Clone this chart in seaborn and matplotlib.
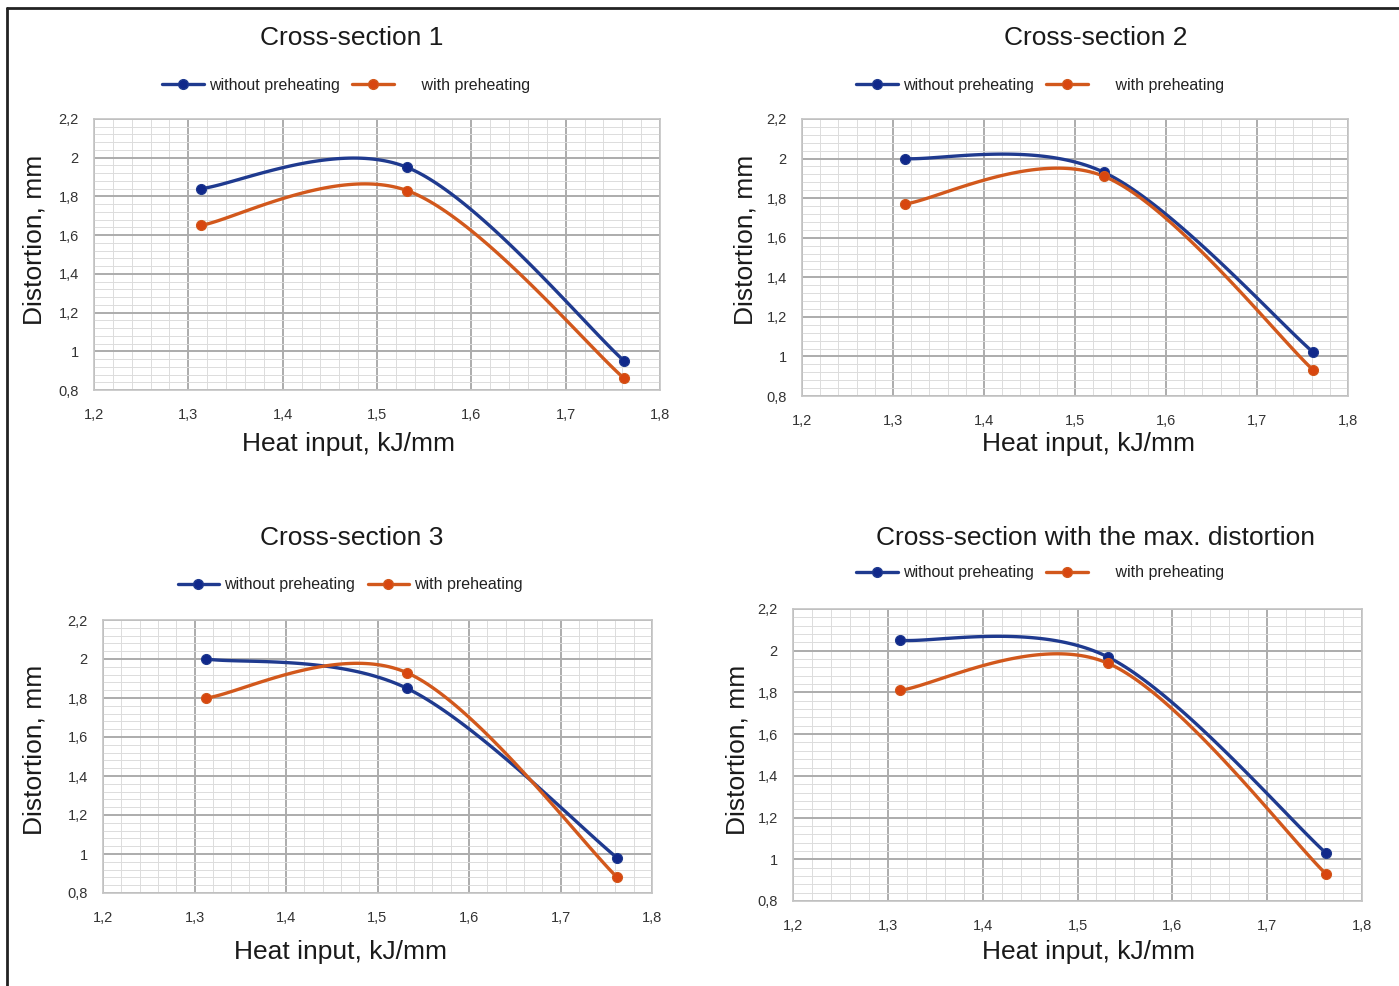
import numpy as np
import pandas as pd
import matplotlib
matplotlib.use("Agg")
import matplotlib.pyplot as plt
from matplotlib.ticker import FixedLocator, MultipleLocator, FixedFormatter
from matplotlib.lines import Line2D
import seaborn as sns

# ---- data -------------------------------------------------------------
heat_input = [1.313, 1.532, 1.762]

panel_titles = ["Cross-section 1", "Cross-section 2",
                "Cross-section 3", "Cross-section with the max. distortion"]

cs1_without = [1.84, 1.95, 0.95]
cs1_with = [1.65, 1.83, 0.86]
cs2_without = [2.00, 1.93, 1.02]
cs2_with = [1.77, 1.91, 0.93]
cs3_without = [2.00, 1.85, 0.98]
cs3_with = [1.80, 1.93, 0.88]
cs4_without = [2.05, 1.97, 1.03]
cs4_with = [1.81, 1.94, 0.93]

series_names = ["without preheating", "with preheating"]

x_ticks = [1.2, 1.3, 1.4, 1.5, 1.6, 1.7, 1.8]
x_tick_labels = ["1,2", "1,3", "1,4", "1,5", "1,6", "1,7", "1,8"]
y_ticks = [0.8, 1.0, 1.2, 1.4, 1.6, 1.8, 2.0, 2.2]
y_tick_labels = ["0,8", "1", "1,2", "1,4", "1,6", "1,8", "2", "2,2"]

x_label = "Heat input, kJ/mm"
y_label = "Distortion, mm"

# ---- style ------------------------------------------------------------
sns.set_theme(style="white")
plt.rcParams["font.family"] = ["Liberation Sans", "DejaVu Sans"]

BLUE = "#1f3a8f"
BLUE_MK = "#10288a"
ORANGE = "#d2581c"
ORANGE_MK = "#d8460f"

W, H = 1399, 986
fig = plt.figure(figsize=(W / 100, H / 100), dpi=100)
fig.patch.set_facecolor("white")


def px_rect(left, right, top, bottom):
    return [left / W, 1 - bottom / H, (right - left) / W, (bottom - top) / H]


def smooth(xs, ys, n=60):
    """Excel-like smoothed line: Catmull-Rom segments as cubic Beziers."""
    P = np.column_stack([xs, ys]).astype(float)
    ext = np.vstack([P[0], P, P[-1]])
    out = []
    t = np.linspace(0, 1, n)[:, None]
    for i in range(len(P) - 1):
        p0, p3 = ext[i + 1], ext[i + 2]
        c1 = p0 + (ext[i + 2] - ext[i]) / 6.0
        c2 = p3 - (ext[i + 3] - ext[i + 1]) / 6.0
        seg = ((1 - t) ** 3) * p0 + 3 * ((1 - t) ** 2) * t * c1 \
            + 3 * (1 - t) * t ** 2 * c2 + t ** 3 * p3
        out.append(seg if i == 0 else seg[1:])
    return np.vstack(out)


panels = [
    dict(data=(cs1_without, cs1_with), rect=px_rect(94, 660, 119, 390),
         title=(352, 38), legend=(346, 85), ylab=(35, 240), xlab=(349, 444),
         pad="     "),
    dict(data=(cs2_without, cs2_with), rect=px_rect(802, 1348, 119, 396),
         title=(1096, 38), legend=(1040, 85), ylab=(745, 240), xlab=(1088, 444),
         pad="     "),
    dict(data=(cs3_without, cs3_with), rect=px_rect(103, 652, 620, 893),
         title=(352, 538), legend=(350, 585), ylab=(35, 750), xlab=(341, 952),
         pad=""),
    dict(data=(cs4_without, cs4_with), rect=px_rect(793, 1362, 609, 901),
         title=(1096, 538), legend=(1040, 573), ylab=(738, 750), xlab=(1088, 952),
         pad="     "),
]

for k, p in enumerate(panels):
    ax = fig.add_axes(p["rect"])
    ax.set_facecolor("white")

    for vals, name, col, mk in zip(p["data"], series_names,
                                   [BLUE, ORANGE], [BLUE_MK, ORANGE_MK]):
        curve = smooth(heat_input, vals)
        df_line = pd.DataFrame({"x": curve[:, 0], "y": curve[:, 1]})
        sns.lineplot(data=df_line, x="x", y="y", ax=ax, sort=False,
                     estimator=None, color=col, lw=2.4, zorder=3)
        df_pts = pd.DataFrame({"x": heat_input, "y": vals})
        sns.scatterplot(data=df_pts, x="x", y="y", ax=ax, color=mk, s=52,
                        edgecolor=col, linewidth=0.8, zorder=4)

    ax.set_xlim(1.2, 1.8)
    ax.set_ylim(0.8, 2.2)
    ax.xaxis.set_major_locator(FixedLocator(x_ticks))
    ax.xaxis.set_major_formatter(FixedFormatter(x_tick_labels))
    ax.yaxis.set_major_locator(FixedLocator(y_ticks))
    ax.yaxis.set_major_formatter(FixedFormatter(y_tick_labels))
    ax.xaxis.set_minor_locator(MultipleLocator(0.02))
    ax.yaxis.set_minor_locator(MultipleLocator(0.04))
    ax.grid(which="major", color="#acacac", lw=1.4)
    ax.grid(which="minor", color="#dcdcdc", lw=0.7)
    ax.set_axisbelow(True)
    ax.tick_params(which="both", length=0)
    ax.tick_params(axis="x", pad=13, labelsize=10.5, labelcolor="#333333")
    ax.tick_params(axis="y", pad=11, labelsize=10.5, labelcolor="#333333")
    for s in ax.spines.values():
        s.set_color("#c4c4c4")
        s.set_linewidth(1.2)
    ax.set_xlabel("")
    ax.set_ylabel("")

    fig.text(p["title"][0] / W, 1 - p["title"][1] / H, panel_titles[k],
             ha="center", va="center", fontsize=19, color="#1a1a1a")
    fig.text(p["xlab"][0] / W, 1 - p["xlab"][1] / H, x_label,
             ha="center", va="center", fontsize=19, color="#1a1a1a")
    fig.text(p["ylab"][0] / W, 1 - p["ylab"][1] / H, y_label,
             ha="center", va="center", fontsize=19, color="#1a1a1a",
             rotation=90)

    handles = [
        Line2D([], [], color=BLUE, lw=2.4, marker="o", ms=7,
               markerfacecolor=BLUE_MK, markeredgecolor=BLUE),
        Line2D([], [], color=ORANGE, lw=2.4, marker="o", ms=7,
               markerfacecolor=ORANGE_MK, markeredgecolor=ORANGE),
    ]
    labels = [series_names[0], p["pad"] + series_names[1]]
    fig.legend(handles, labels, loc="center",
               bbox_to_anchor=(p["legend"][0] / W, 1 - p["legend"][1] / H),
               ncol=2, frameon=False, fontsize=11.5, handlelength=2.6,
               handletextpad=0.3, columnspacing=0.8, labelcolor="#222222")

# thin frame around the figure (left and top edges)
fig.add_artist(Line2D([7 / W, 7 / W], [0, 1 - 8 / H], transform=fig.transFigure,
                      color="#222222", lw=2))
fig.add_artist(Line2D([7 / W, 1], [1 - 8 / H, 1 - 8 / H], transform=fig.transFigure,
                      color="#222222", lw=2))

fig.savefig("out.png", dpi=100)
